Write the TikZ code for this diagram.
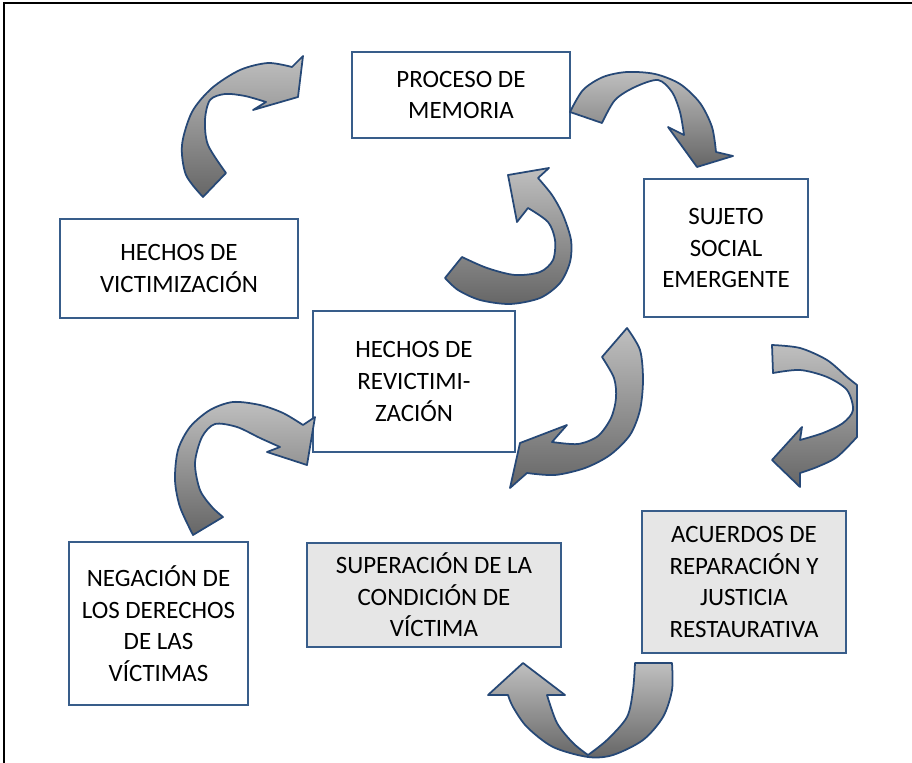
\documentclass[tikz,border=0pt]{standalone}
\usepackage{fontspec}
\setmainfont{Carlito}
\usepackage{tikz}
\definecolor{borde}{RGB}{56,93,138}
\definecolor{contorno}{RGB}{38,72,118}
\definecolor{gris}{RGB}{230,230,230}
\tikzset{caja/.style = {draw=borde, line width=1.1pt, fill=white, align=center, inner sep=0pt,
                        font=\fontsize{14.2}{18}\selectfont},
         cajagris/.style = {caja, fill=gris},
         flecha/.style = {draw=contorno, line width=1pt, line join=round,
                          top color=black!25, bottom color=black!60}}

\begin{document}
\begin{tikzpicture}[x=0.02cm, y=-0.02cm]
      \useasboundingbox (0,0) rectangle (912,763);
      \draw [line width=1.2pt] (4,763) -- (4,3) -- (912,3);

      \node [caja, minimum width=4.36cm, minimum height=1.72cm] (memoria) at (461,95) {PROCESO DE\\MEMORIA};
      \node [caja, minimum width=3.28cm, minimum height=2.76cm] (sujeto) at (726,248) {SUJETO\\SOCIAL\\EMERGENTE};
      \node [caja, minimum width=4.76cm, minimum height=1.98cm] (victim) at (179,268.5) {HECHOS DE\\VICTIMIZACIÓN};
      \node [caja, minimum width=4.04cm, minimum height=2.82cm] (revict) at (414,381.5) {HECHOS DE\\REVICTIMI-\\ZACIÓN};
      \node [caja, minimum width=3.58cm, minimum height=3.26cm] (negacion) at (158.5,623.5) {NEGACIÓN DE\\LOS DERECHOS\\DE LAS\\VÍCTIMAS};
      \node [cajagris, minimum width=5.08cm, minimum height=2.08cm] (superacion) at (434,595) {SUPERACIÓN DE LA\\CONDICIÓN DE\\VÍCTIMA};
      \node [cajagris, minimum width=4.08cm, minimum height=2.84cm] (acuerdos) at (744,582) {ACUERDOS DE\\REPARACIÓN Y\\JUSTICIA\\RESTAURATIVA};

      \draw [flecha] plot [smooth] coordinates {(203,197) (186,175) (182,145) (192,112) (212,88) (240,70) (268,63) (292,67)}
            -- (303,56) -- (298,97) -- (253,110) -- (266,102)
            -- plot [smooth] coordinates {(266,102) (245,96) (225,94) (210,100) (205,120) (208,145) (226,173)} -- cycle;

      \draw [flecha] plot [smooth] coordinates {(570,112) (583,90) (603,77) (627,72) (655,74) (680,84) (700,103) (712,127) (716,152)}
            -- (733,156) -- (697,167) -- (668,127) -- (684,135)
            -- plot [smooth] coordinates {(684,135) (680,112) (672,92) (658,80) (635,87) (615,100) (602,123)} -- cycle;

      \draw [flecha] (508,175) -- (549,168) -- (538,178)
            -- plot [smooth] coordinates {(538,178) (552,195) (563,215) (571,240) (570,262) (560,283) (540,298) (510,304) (480,300) (458,290) (445,278)}
            -- (462,257)
            -- plot [smooth] coordinates {(462,257) (487,268) (515,275) (540,272) (553,260) (555,240) (548,222) (528,208)}
            -- (517,222) -- cycle;

      \draw [flecha] (627,328)
            -- plot [smooth] coordinates {(627,328) (640,350) (643,380) (640,410) (630,435) (610,455) (585,468) (555,475) (527,473)}
            -- (510,488) -- (520,443) -- (567,425) -- (552,442)
            -- plot [smooth] coordinates {(552,442) (578,444) (598,436) (611,418) (616,398) (614,378) (602,357)} -- cycle;

      \draw [flecha] (772,345)
            -- plot [smooth] coordinates {(772,345) (800,348) (827,360) (847,377) (857,385)}
            -- (857,437)
            -- plot [smooth] coordinates {(857,437) (837,457) (817,467) (800,473)}
            -- (800,487) -- (772,460) -- (802,427) -- (800,440)
            -- plot [smooth] coordinates {(800,440) (823,433) (843,423) (853,410) (847,390) (827,377) (800,370) (773,373)} -- cycle;

      \draw [flecha] plot [smooth] coordinates {(193,535) (180,507) (175,480) (178,450) (190,427) (210,410) (233,402) (260,405) (283,413) (303,425)}
            -- (315,417) -- (307,465) -- (267,452) -- (280,447)
            -- plot [smooth] coordinates {(280,447) (260,438) (237,427) (215,424) (202,437) (195,463) (200,490) (212,507) (223,517)} -- cycle;

      \draw [flecha] (635,663) -- (672,663)
            -- plot [smooth] coordinates {(672,663) (672,690) (663,717) (643,740) (613,755) (588,757) (553,747) (527,727) (513,707) (508,695)}
            -- (488,695) -- (523,663) -- (565,695) -- (547,695)
            -- plot [smooth] coordinates {(547,695) (557,723) (573,743) (588,755)}
            -- plot [smooth] coordinates {(588,755) (607,740) (627,717) (633,690) (635,663)} -- cycle;
    \end{tikzpicture}
\end{document}
